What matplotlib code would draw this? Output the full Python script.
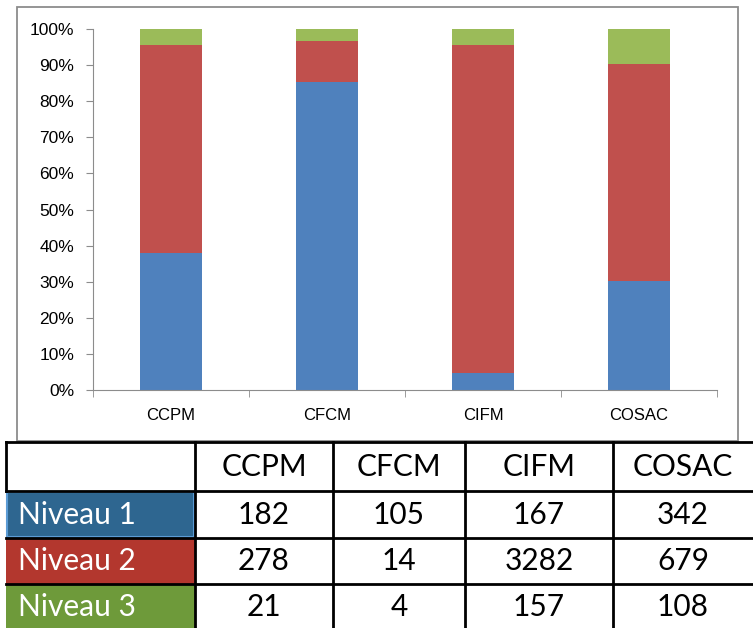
import numpy as np
import matplotlib
matplotlib.use('Agg')
import matplotlib.pyplot as plt
from matplotlib.patches import Rectangle

categories = ['CCPM', 'CFCM', 'CIFM', 'COSAC']
levels = ['Niveau 1', 'Niveau 2', 'Niveau 3']
niveau1 = [182, 105, 167, 342]
niveau2 = [278, 14, 3282, 679]
niveau3 = [21, 4, 157, 108]

bar_colors = ['#4F81BD', '#C0504D', '#9BBB59']
cell_colors = ['#2E6690', '#B3372E', '#6E9A3A']

W, H = 753, 628
fig = plt.figure(figsize=(W / 100, H / 100), dpi=100)

# background canvas in pixel coords (chart frame + table)
bg = fig.add_axes([0, 0, 1, 1])
bg.set_xlim(0, W)
bg.set_ylim(H, 0)
bg.axis('off')

# chart frame
bg.add_patch(Rectangle((17, 7), 721, 434, fill=False, ec='#8c8c8c', lw=1.3))

# stacked percent bars
vals = np.array([niveau1, niveau2, niveau3], dtype=float)
pct = vals / vals.sum(axis=0)

ax = fig.add_axes([93 / W, 1 - 390 / H, (717 - 93) / W, (390 - 29) / H])
x = np.arange(len(categories))
bottom = np.zeros(len(categories))
for i in range(len(levels)):
    ax.bar(x, pct[i], bottom=bottom, width=0.4, color=bar_colors[i], label=levels[i])
    bottom += pct[i]

ax.set_xlim(-0.5, len(categories) - 0.5)
ax.set_ylim(0, 1)
ax.set_yticks(np.arange(0, 1.01, 0.1))
ax.set_yticklabels([f'{int(round(v * 100))}%' for v in np.arange(0, 1.01, 0.1)],
                   fontsize=12.5, family='Liberation Sans')
ax.set_xticks(x)
ax.set_xticklabels(categories, fontsize=12, family='Liberation Sans')
ax.set_xticks(np.arange(-0.5, len(categories)), minor=True)
ax.tick_params(axis='x', which='major', length=0, pad=13)
ax.tick_params(axis='x', which='minor', length=5, color='#8c8c8c', direction='out')
ax.tick_params(axis='y', length=5, color='#8c8c8c', direction='out', pad=8.5)
for s in ['top', 'right']:
    ax.spines[s].set_visible(False)
for s in ['left', 'bottom']:
    ax.spines[s].set_color('#8c8c8c')
ax.patch.set_alpha(0)

# data table
col_x = [6, 195, 333, 465, 613, 753]
row_y = [442, 491, 538, 584, 630]
font = 'Lato'
fs = 21.5

bg.add_patch(Rectangle((col_x[0], row_y[0]), col_x[-1] - col_x[0], row_y[-1] - row_y[0],
                       facecolor='white', edgecolor='none', zorder=1))
for r in range(3):
    bg.add_patch(Rectangle((col_x[0], row_y[r + 1]), col_x[1] - col_x[0],
                           row_y[r + 2] - row_y[r + 1], facecolor=cell_colors[r],
                           edgecolor='none', zorder=2))
    bg.text(col_x[0] + 12, (row_y[r + 1] + row_y[r + 2]) / 2, levels[r], color='white',
            fontsize=fs, family=font, ha='left', va='center', zorder=4)
bg.add_patch(Rectangle((col_x[0] + 1, row_y[1] + 1), col_x[1] - col_x[0] - 2,
                       row_y[2] - row_y[1] - 2, fill=False, edgecolor='#5B9BD5',
                       lw=1.5, zorder=3))

for c in range(len(categories)):
    cx = (col_x[c + 1] + col_x[c + 2]) / 2
    bg.text(cx, (row_y[0] + row_y[1]) / 2, categories[c], fontsize=fs, family=font,
            ha='center', va='center', zorder=4)
    for r in range(3):
        bg.text(cx, (row_y[r + 1] + row_y[r + 2]) / 2, str(int(vals[r, c])), fontsize=fs,
                family=font, ha='center', va='center', zorder=4)

# grid lines
for yy in row_y[:-1]:
    bg.plot([col_x[0], col_x[-1]], [yy, yy], color='black', lw=2, zorder=5)
bg.plot([col_x[0], col_x[0]], [row_y[0], row_y[1]], color='black', lw=2, zorder=5)
for xx in col_x[1:-1]:
    bg.plot([xx, xx], [row_y[0], row_y[-1]], color='black', lw=2, zorder=5)

fig.savefig('out.png', dpi=100)
